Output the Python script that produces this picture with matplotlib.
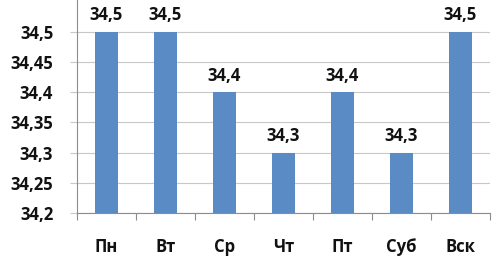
import numpy as np
import matplotlib.pyplot as plt
from matplotlib.ticker import FixedLocator

days = ['Пн', 'Вт', 'Ср', 'Чт', 'Пт', 'Суб', 'Вск']
values = [34.5, 34.5, 34.4, 34.3, 34.4, 34.3, 34.5]
yticks = [34.2, 34.25, 34.3, 34.35, 34.4, 34.45, 34.5]

plt.rcParams['font.family'] = ['Open Sans', 'DejaVu Sans']
fs = 12

fig = plt.figure(figsize=(5.02, 2.61), dpi=100)
ax = fig.add_axes([0.153, 0.184, 0.823, 0.816])

x = np.arange(len(days))
ax.bar(x, values, width=0.39, color='#5b8bc5', zorder=3)

for xi, v in zip(x, values):
    ax.annotate(f'{v:.1f}'.replace('.', ','), (xi, v), xytext=(0, 8.5),
                textcoords='offset points', ha='center', va='baseline',
                fontsize=fs, fontweight='bold', color='#111111', clip_on=False)

ax.set_xlim(-0.5, len(days) - 0.5)
ax.set_ylim(34.2, 34.553)
ax.set_yticks(yticks)
ax.set_yticklabels([f'{t:g}'.replace('.', ',') for t in yticks],
                   fontsize=fs, fontweight='bold', color='#111111')
ax.yaxis.grid(True, color='#c8c8c8', linewidth=0.8, zorder=0)

ax.xaxis.set_major_locator(FixedLocator(np.arange(len(days) + 1) - 0.5))
ax.xaxis.set_major_formatter(plt.NullFormatter())
ax.xaxis.set_minor_locator(FixedLocator(x))
ax.set_xticklabels(days, minor=True, fontsize=fs, fontweight='bold', color='#111111')
ax.tick_params(axis='x', which='major', length=5, color='#8c8c8c', direction='out')
ax.tick_params(axis='x', which='minor', length=0, pad=18)
ax.tick_params(axis='y', length=5, color='#c8c8c8', pad=12)

for s in ['top', 'right']:
    ax.spines[s].set_visible(False)
ax.spines['left'].set_color('#8c8c8c')
ax.spines['bottom'].set_color('#8c8c8c')

fig.savefig('out.png', dpi=100)
